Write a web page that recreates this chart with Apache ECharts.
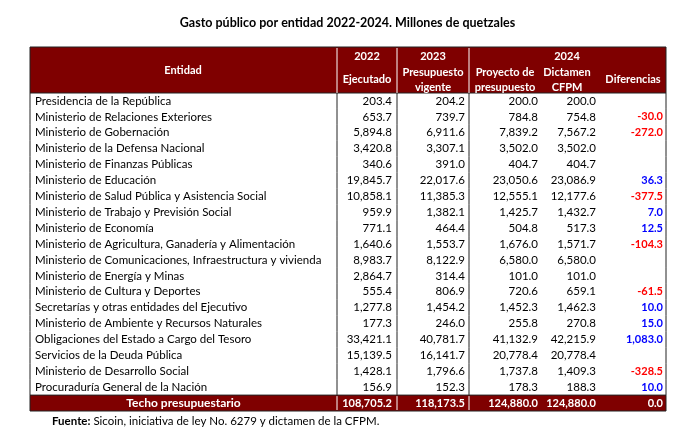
<!DOCTYPE html>
<html>
<head>
<meta charset="utf-8">
<script src="https://cdn.jsdelivr.net/npm/echarts@6/dist/echarts.min.js"></script>
<style>
  html, body { margin: 0; padding: 0; background: #fff; }
  #chart { width: 695px; height: 439px; }
</style>
</head>
<body>
<div id="chart"></div>
<script>
// datos (millones de quetzales)
const entidades = [
  'Presidencia de la República',
  'Ministerio de Relaciones Exteriores',
  'Ministerio de Gobernación',
  'Ministerio de la Defensa Nacional',
  'Ministerio de Finanzas Públicas',
  'Ministerio de Educación',
  'Ministerio de Salud Pública y Asistencia Social',
  'Ministerio de Trabajo y Previsión Social',
  'Ministerio de Economía',
  'Ministerio de Agricultura, Ganadería y Alimentación',
  'Ministerio de Comunicaciones, Infraestructura y vivienda',
  'Ministerio de Energía y Minas',
  'Ministerio de Cultura y Deportes',
  'Secretarías y otras entidades del Ejecutivo',
  'Ministerio de Ambiente y Recursos Naturales',
  'Obligaciones del Estado a Cargo del Tesoro',
  'Servicios de la Deuda Pública',
  'Ministerio de Desarrollo Social',
  'Procuraduría General de la Nación'
];
const ejecutado2022 = [203.4, 653.7, 5894.8, 3420.8, 340.6, 19845.7, 10858.1, 959.9, 771.1, 1640.6, 8983.7, 2864.7, 555.4, 1277.8, 177.3, 33421.1, 15139.5, 1428.1, 156.9];
const vigente2023 = [204.2, 739.7, 6911.6, 3307.1, 391.0, 22017.6, 11385.3, 1382.1, 464.4, 1553.7, 8122.9, 314.4, 806.9, 1454.2, 246.0, 40781.7, 16141.7, 1796.6, 152.3];
const proyecto2024 = [200.0, 784.8, 7839.2, 3502.0, 404.7, 23050.6, 12555.1, 1425.7, 504.8, 1676.0, 6580.0, 101.0, 720.6, 1452.3, 255.8, 41132.9, 20778.4, 1737.8, 178.3];
const dictamen2024 = [200.0, 754.8, 7567.2, 3502.0, 404.7, 23086.9, 12177.6, 1432.7, 517.3, 1571.7, 6580.0, 101.0, 659.1, 1462.3, 270.8, 42215.9, 20778.4, 1409.3, 188.3];
const diferencias = [null, -30.0, -272.0, null, null, 36.3, -377.5, 7.0, 12.5, -104.3, null, null, -61.5, 10.0, 15.0, 1083.0, null, -328.5, 10.0];
const totalLabel = 'Techo presupuestario';
const totales = [108705.2, 118173.5, 124880.0, 124880.0, 0.0];

const FONT = 'Lato';
const RED = '#7f0000';
const LINE = '#222';
const REG = '11.5px ' + FONT;
const BOLD = 'bold 11px ' + FONT;

// layout de columnas, en px relativos al borde izquierdo de la tabla
const tableW = 636;
const sep = [0, 307, 367, 439, 636];
const rightPos = [362, 435, 508, 566, 633];

function fmt(v) {
  const s = Math.abs(v).toFixed(1).split('.');
  s[0] = s[0].replace(/\B(?=(\d{3})+(?!\d))/g, ',');
  return (v < 0 ? '-' : '') + s.join('.');
}

const rows = entidades.map((e, i) => [i, e, ejecutado2022[i], vigente2023[i], proyecto2024[i], dictamen2024[i], diferencias[i]]);
rows.push([entidades.length, totalLabel].concat(totales));

function renderItem(params, api) {
  const r = api.value(0);
  const isTotal = r === entidades.length;
  const c = api.coord([0, r]);
  const h = api.size([0, 1])[1];
  const y0 = c[1] - h / 2;
  const xs = sep.map(s => api.coord([s, r])[0]);
  const children = [];
  if (isTotal) {
    children.push({ type: 'rect', shape: { x: xs[0], y: y0, width: xs[4] - xs[0], height: h },
      style: { fill: RED, stroke: LINE, lineWidth: 1 } });
    [1, 2, 3].forEach(k => children.push({ type: 'line',
      shape: { x1: xs[k], y1: y0 + 1, x2: xs[k], y2: y0 + h - 1 },
      style: { stroke: '#fff', lineWidth: 1 } }));
  } else {
    [0, 1, 2, 3, 4].forEach(k => children.push({ type: 'line',
      shape: { x1: xs[k], y1: y0, x2: xs[k], y2: y0 + h },
      style: { stroke: LINE, lineWidth: 1 } }));
  }
  const name = rows[params.dataIndex][1];
  children.push({ type: 'text', x: isTotal ? (xs[0] + xs[1]) / 2 : xs[0] + 5, y: c[1],
    style: { text: name, font: isTotal ? 'bold 12px ' + FONT : REG,
      fill: isTotal ? '#fff' : '#000', align: isTotal ? 'center' : 'left', verticalAlign: 'middle' } });
  for (let k = 0; k < 5; k++) {
    const v = api.value(2 + k);
    if (v === null || v === undefined || isNaN(v)) continue;
    const x = api.coord([rightPos[k], r])[0];
    let fill = '#000', bold = isTotal;
    if (isTotal) fill = '#fff';
    else if (k === 4) { fill = v < 0 ? '#ff0000' : '#0000ff'; bold = true; }
    children.push({ type: 'text', x: x, y: c[1],
      style: { text: fmt(v), font: bold ? BOLD : REG,
        fill: fill, align: 'right', verticalAlign: 'middle' } });
  }
  return { type: 'group', children: children };
}

const hdrTop = 47, hdrBot = 93, tx = 30;
const hdrText = (t, x, y) => ({ type: 'text', x: tx + x, y: y,
  style: { text: t, font: BOLD, fill: '#fff', align: 'center', verticalAlign: 'middle' } });

const chart = echarts.init(document.getElementById('chart'));
chart.setOption({
  animation: false,
  title: {
    text: 'Gasto público por entidad 2022-2024. Millones de quetzales',
    left: 'center', top: 11,
    textStyle: { fontFamily: FONT, fontSize: 12.5, fontWeight: 'bold', color: '#000' }
  },
  grid: { left: tx, right: 695 - tx - tableW, top: hdrBot, bottom: 28 },
  xAxis: { type: 'value', min: 0, max: tableW, show: false },
  yAxis: { type: 'category', data: entidades.concat([totalLabel]), inverse: true, show: false },
  graphic: [
    { type: 'rect', shape: { x: tx, y: hdrTop, width: tableW, height: hdrBot - hdrTop },
      style: { fill: RED, stroke: LINE, lineWidth: 1 } },
    ...[1, 2, 3].map(k => ({ type: 'line',
      shape: { x1: tx + sep[k], y1: hdrTop + 1, x2: tx + sep[k], y2: hdrBot },
      style: { stroke: '#fff', lineWidth: 1 } })),
    hdrText('Entidad', 153, 70),
    hdrText('2022', 337, 56), hdrText('Ejecutado', 337, 79),
    hdrText('2023', 403, 56), hdrText('Presupuesto', 403, 72), hdrText('vigente', 403, 87),
    hdrText('2024', 537, 56),
    hdrText('Proyecto de', 475, 72), hdrText('presupuesto', 475, 87),
    hdrText('Dictamen', 537, 72), hdrText('CFPM', 537, 87),
    hdrText('Diferencias', 603, 79),
    { type: 'text', x: 52, y: 421,
      style: { text: '{b|Fuente:} Sicoin, iniciativa de ley No. 6279 y dictamen de la CFPM.',
        font: REG, fill: '#000', verticalAlign: 'middle',
        rich: { b: { fontWeight: 'bold', fontFamily: FONT, fontSize: 11.5 } } } }
  ],
  series: [{
    type: 'custom',
    renderItem: renderItem,
    encode: { x: -1, y: 0 },
    data: rows.map(r => [r[0], 0, r[2], r[3], r[4], r[5], r[6]]),
    dimensions: ['fila', 'n', 'e22', 'v23', 'p24', 'd24', 'dif']
  }]
});
</script>
</body>
</html>
